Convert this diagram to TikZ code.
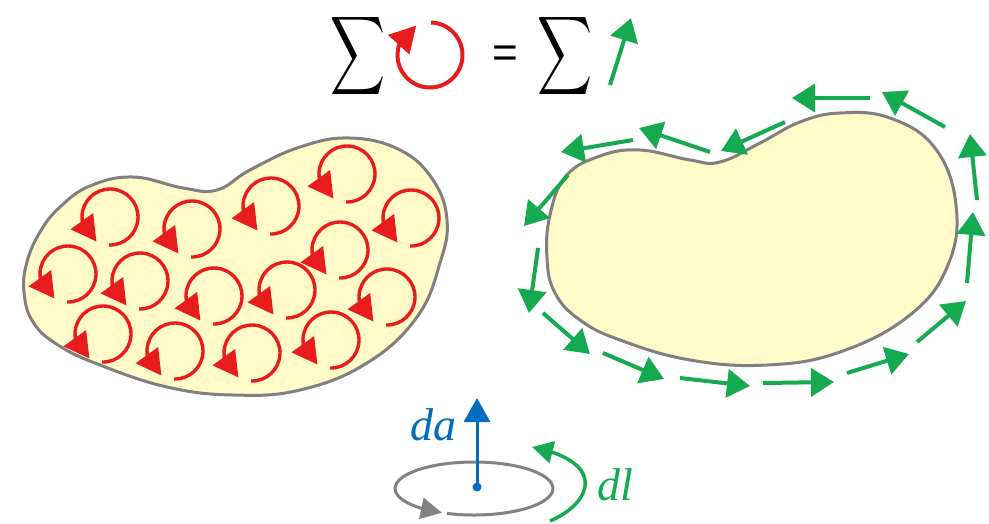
\documentclass[tikz,border=0pt]{standalone}
\usepackage{fontspec}
\usepackage{graphicx}
\setmainfont{Liberation Serif}
\setsansfont{Liberation Sans}
\usetikzlibrary{arrows.meta,bending}
\definecolor{blobfill}{RGB}{255,250,200}
\definecolor{blobedge}{RGB}{128,128,128}
\definecolor{curlred}{RGB}{232,28,28}
\definecolor{circgreen}{RGB}{22,170,80}
\definecolor{dablue}{RGB}{0,110,190}
\definecolor{loopgray}{RGB}{130,130,130}
\tikzset{
  blob/.style={draw=blobedge, fill=blobfill, line width=3pt},
  curl/.style={draw=curlred, line width=3.4pt, -{Triangle[length=25pt,width=27pt,flex]}},
  garrow/.style={draw=circgreen, line width=4pt, -{Triangle[length=23pt,width=28pt]}},
  gcurve/.style={draw=circgreen, line width=3.5pt, -{Triangle[length=21pt,width=22pt,flex]}},
  grayloop/.style={draw=loopgray, line width=3pt, -{Triangle[length=21pt,width=21pt,flex]}},
  bluearrow/.style={draw=dablue, line width=3pt, -{Triangle[length=24pt,width=26pt]}},
  label/.style={font=\itshape\fontsize{46}{46}\selectfont, inner sep=0pt, anchor=base},
  sigma/.style={inner sep=0pt}
}
\begin{document}
\begin{tikzpicture}[x=1pt,y=-1pt]
\useasboundingbox (0,0) rectangle (989,523);
\fill[white] (0,0) rectangle (989,523);

% left blob
\draw[blob] plot[smooth cycle, tension=0.7] coordinates {
 (27,262) (40,232) (60,207) (90,186) (133,177) (183,188) (217,190)
 (250,170) (300,147) (350,138) (400,150) (433,180) (447,220) (440,263)
 (417,317) (367,363) (300,390) (233,395) (167,387) (100,365) (58,345) (33,322) (24,292)};

% red curls
\foreach \cx/\cy in {110/217,192/229,271/206,347/174,411/218,
                     68/274,140/281,214/296,287/290,340/250,387/297,
                     103/334,175/351,252/353,331/340}
  \draw[curl] (\cx,\cy) ++(92:28) arc[start angle=92, end angle=-241, radius=28];

% right blob
\draw[blob] plot[smooth cycle, tension=0.7] coordinates {
 (600,156) (566,176) (550,215) (547,258) (555,293) (580,320) (620,340)
 (690,360) (767,365) (840,352) (910,315) (948,265) (956,205) (935,148)
 (890,118) (840,113) (800,122) (760,143) (720,162) (690,160) (640,150)};

% green arrows around right blob
\draw[garrow] (543,313) -- (590,354);
\draw[garrow] (603,353) -- (664,379);
\draw[garrow] (680,378) -- (750,386);
\draw[garrow] (763,383) -- (834,382);
\draw[garrow] (847,373) -- (909,354);
\draw[garrow] (917,342) -- (966,301);
\draw[garrow] (967,283) -- (973,212);
\draw[garrow] (977,200) -- (970,134);
\draw[garrow] (945,127) -- (882,92);
\draw[garrow] (870,98) -- (792,98);
\draw[garrow] (785,122) -- (721,151);
\draw[garrow] (710,152) -- (639,128);
\draw[garrow] (633,140) -- (561,152);
\draw[garrow] (568,175) -- (524,226);
\draw[garrow] (538,248) -- (529,313);

% title
\node[sigma] (sum1) at (358,56) {\resizebox*{55pt}{88pt}{$\displaystyle\sum$}};
\draw[curl, line width=4pt, -{Triangle[length=26pt,width=28pt,flex]}]
  (430,55) ++(-88:32.5) arc[start angle=-88, end angle=245, radius=32.5];
\node[inner sep=0pt] (eq) at (505,57) {\sffamily\fontsize{44}{44}\selectfont =};
\node[sigma] (sum2) at (565,56) {\resizebox*{55pt}{88pt}{$\displaystyle\sum$}};
\coordinate (gtail) at (610,85);
\coordinate (gtip) at (631,18);
\draw[garrow] (gtail) -- (gtip);

% bottom symbol
\draw[grayloop] (474,488.5) ++(110:79 and 26.5)
  arc[start angle=110, end angle=-246, x radius=79, y radius=26.5];
\coordinate (dot) at (477,487);
\coordinate (datip) at (477,398);
\draw[bluearrow] (dot) -- (datip);
\fill[dablue] (dot) circle (4.5);
\coordinate (dlstart) at (550,521);
\coordinate (dlend) at (532,447);
\draw[gcurve] (dlstart) .. controls (592,503) and (608,462) .. (dlend);
\node[label, text=dablue] (da) at (433,440) {da};
\node[label, text=circgreen] (dl) at (615,500) {dl};
\end{tikzpicture}
\end{document}
